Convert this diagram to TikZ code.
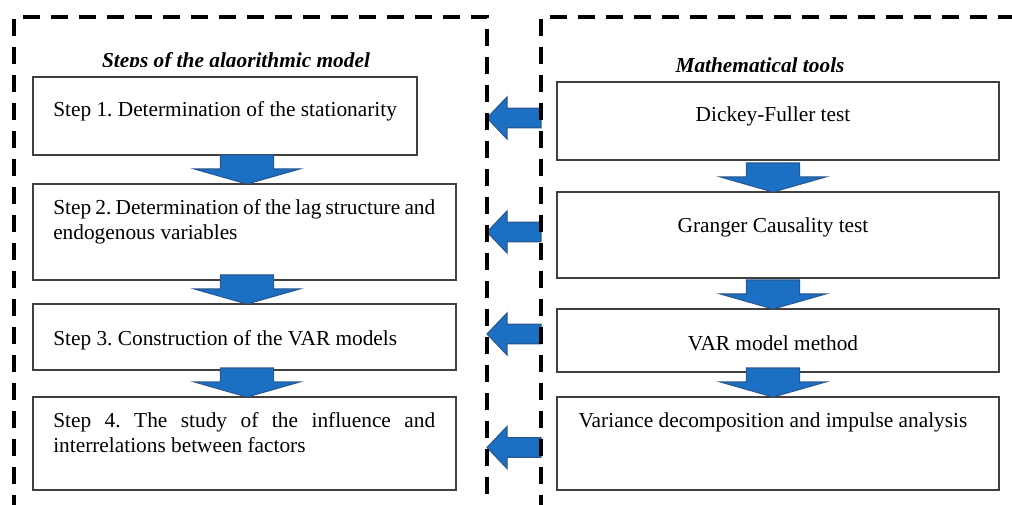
\documentclass[tikz,border=0pt]{standalone}
\usepackage{fontspec}
\setmainfont{Liberation Serif}
\frenchspacing
\usetikzlibrary{calc, positioning}
\definecolor{arrowblue}{RGB}{28,112,196}
\definecolor{arrowedge}{RGB}{40,88,148}
\tikzset{
  frame/.style={line width=2.5pt, dash pattern=on 12.75pt off 8.25pt},
  stepbox/.style={draw=black!75, line width=0.8pt, fill=white, anchor=north west, inner sep=0pt, outer sep=0pt},
  steptext/.style={anchor=base west, inner sep=0pt, font=\fontsize{16}{18.75}\selectfont},
  tooltext/.style={anchor=base, inner sep=0pt, font=\fontsize{16}{18.75}\selectfont},
  heading/.style={anchor=base, inner sep=0pt, font=\fontsize{16}{18.75}\selectfont\bfseries\itshape},
  % block arrow pointing down, tip at the target
  downblock/.style={fill=arrowblue, draw=arrowedge, line width=0.8pt,
    to path={let \p1=(\tikztostart), \p2=(\tikztotarget) in
      (\x1-20pt,\y2+21.75pt) -- (\x1-20pt,\y2+11.25pt) -- (\x1-39.5pt,\y2+11.25pt) -- (\x1,\y2)
      -- (\x1+39.5pt,\y2+11.25pt) -- (\x1+20pt,\y2+11.25pt) -- (\x1+20pt,\y2+21.75pt) -- cycle}},
  % block arrow pointing left, from the right frame to the left one
  leftblock/.style={fill=arrowblue, draw=arrowedge, line width=0.8pt,
    to path={let \p1=(\tikztostart), \p2=(\tikztotarget) in
      (\x1,\y1+7.3pt) -- (\x2+15pt,\y1+7.3pt) -- (\x2+15pt,\y1+15.75pt) -- (\x2,\y1)
      -- (\x2+15pt,\y1-15.75pt) -- (\x2+15pt,\y1-7.3pt) -- (\x1,\y1-7.3pt) -- cycle}},
}

\begin{document}
\begin{tikzpicture}[x=0.75pt, y=-0.75pt]
\useasboundingbox (0,0) rectangle (1012,505);

% column axes and frame edges
\coordinate (lc) at (247,0);
\coordinate (rc) at (773,0);
\coordinate (lf) at (487,0);
\coordinate (rf) at (541,0);

% left column: steps
\node[stepbox, minimum width=288pt, minimum height=58.5pt] (s1) at (33,77) {};
\node[stepbox, minimum width=317.25pt, minimum height=72pt] (s2) at (33,184) {};
\node[stepbox, minimum width=317.25pt, minimum height=49.5pt] (s3) at (33,304) {};
\node[stepbox, minimum width=317.25pt, minimum height=69.75pt] (s4) at (33,397) {};

\node[steptext] (t1) at ($(s1.north west)+(20,40)$) {Step 1. Determination of the stationarity};
\node[steptext, text width=286.5pt, align=justify] (t2) at ($(s2.north west)+(20,31)$)
  {Step 2. Determination of the lag structure and\linebreak endogenous variables};
\node[steptext] (t3) at ($(s3.north west)+(20,41)$) {Step 3. Construction of the VAR models};
\node[steptext, text width=286.5pt, align=justify] (t4) at ($(s4.north west)+(20,30)$)
  {Step 4. The study of the influence and\linebreak interrelations between factors};

% right column: tools
\node[stepbox, minimum width=331.5pt, minimum height=58.5pt] (r1) at (557,82) {};
\node[stepbox, minimum width=331.5pt, minimum height=64.5pt] (r2) at (557,192) {};
\node[stepbox, minimum width=331.5pt, minimum height=47.25pt] (r3) at (557,309) {};
\node[stepbox, minimum width=331.5pt, minimum height=69.75pt] (r4) at (557,397) {};

\node[tooltext] (m1) at ($(r1.north -| rc)+(0,40)$) {Dickey-Fuller test};
\node[tooltext] (m2) at ($(r2.north -| rc)+(0,41)$) {Granger Causality test};
\node[tooltext] (m3) at ($(r3.north -| rc)+(0,41)$) {VAR model method};
\node[tooltext] (m4) at ($(r4.north -| rc)+(0,30)$) {Variance decomposition and impulse analysis};

% headings, cut off by their text frames
\begin{scope}
  \clip (90,40) rectangle (390,66.5);
  \node[heading] (h1) at (236,68) {Steps of the algorithmic model};
\end{scope}
\begin{scope}
  \clip (660,40) rectangle (860,71.5);
  \node[heading] (h2) at (760,73) {Mathematical tools};
\end{scope}

% down arrows
\draw[downblock] (s1.south -| lc) to (s2.north -| lc);
\draw[downblock] (s2.south -| lc) to (s3.north -| lc);
\draw[downblock] (s3.south -| lc) to (s4.north -| lc);
\draw[downblock] (r1.south -| rc) to (r2.north -| rc);
\draw[downblock] (r2.south -| rc) to (r3.north -| rc);
\draw[downblock] (r3.south -| rc) to (r4.north -| rc);

% left arrows between the frames
\draw[leftblock] ($(s1.east -| rf)+(0,2)$) to (s1.east -| lf);
\draw[leftblock] (s2.east -| rf) to (s2.east -| lf);
\draw[leftblock] ($(s3.east -| rf)+(0,-3)$) to (s3.east -| lf);
\draw[leftblock] ($(s4.east -| rf)+(0,4)$) to (s4.east -| lf);

% dashed frames
\draw[frame] (14,512) -- (14,17) -- (lf |- 0,17) -- (lf |- 0,512);
\draw[frame] (rf |- 0,512) -- (rf |- 0,17) -- (1020,17);
\draw[frame, draw=black!12] (14,507) -- (1020,507);
\end{tikzpicture}
\end{document}
